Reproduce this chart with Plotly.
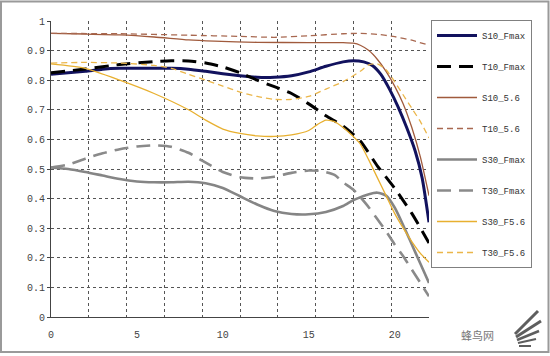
import plotly.graph_objects as go

# ---------------- data ----------------
x_S10_Fmax = [0, 1, 2, 3, 4, 5, 6, 7, 8, 9, 10, 11, 12, 13, 14, 15, 16, 17, 17.6, 18.2, 18.7, 19.2, 19.7, 20.2, 20.7, 21.2, 21.6, 22]
y_S10_Fmax = [0.82, 0.825, 0.83, 0.837, 0.84, 0.84, 0.84, 0.84, 0.837, 0.83, 0.822, 0.815, 0.81, 0.81, 0.815, 0.828, 0.847, 0.862, 0.866, 0.862, 0.85, 0.82, 0.77, 0.71, 0.64, 0.56, 0.47, 0.32]

x_T10_Fmax = [0, 2, 4, 6, 7, 8, 9, 10, 11, 12, 13, 14, 15, 16, 17, 18, 19, 20, 21, 22]
y_T10_Fmax = [0.825, 0.838, 0.853, 0.863, 0.866, 0.865, 0.858, 0.845, 0.825, 0.80, 0.778, 0.755, 0.72, 0.68, 0.645, 0.595, 0.51, 0.435, 0.35, 0.25]

x_S10_56 = [0, 2, 4, 6, 8, 9.5, 12, 15, 17, 17.6, 18, 18.5, 19, 19.5, 20, 20.5, 21, 21.5, 22]
y_S10_56 = [0.958, 0.956, 0.953, 0.946, 0.936, 0.932, 0.928, 0.927, 0.927, 0.925, 0.918, 0.90, 0.87, 0.83, 0.78, 0.72, 0.64, 0.54, 0.41]

x_T10_56 = [0, 4, 8, 11, 13, 15, 17, 18, 19, 20, 21, 22]
y_T10_56 = [0.958, 0.957, 0.952, 0.948, 0.945, 0.95, 0.957, 0.958, 0.955, 0.947, 0.935, 0.918]

x_S30_Fmax = [0, 1, 2, 3, 4, 5, 6, 7, 8, 9, 10, 11, 12, 13, 14, 15, 16, 17, 17.6, 18.5, 19, 19.5, 20, 20.5, 21, 21.5, 22]
y_S30_Fmax = [0.505, 0.50, 0.49, 0.478, 0.466, 0.458, 0.455, 0.455, 0.457, 0.452, 0.436, 0.408, 0.38, 0.358, 0.348, 0.347, 0.355, 0.375, 0.395, 0.415, 0.42, 0.41, 0.37, 0.31, 0.245, 0.18, 0.115]

x_T30_Fmax = [0, 1, 2, 3, 4, 5, 6, 7, 8, 8.8, 10, 11, 12, 13, 14, 15, 15.7, 16.5, 17, 17.6, 18, 18.5, 19, 19.5, 20, 20.5, 21, 21.5, 22]
y_T30_Fmax = [0.505, 0.515, 0.535, 0.553, 0.567, 0.576, 0.58, 0.575, 0.555, 0.528, 0.49, 0.472, 0.468, 0.474, 0.487, 0.495, 0.493, 0.48, 0.455, 0.43, 0.405, 0.37, 0.33, 0.29, 0.245, 0.205, 0.16, 0.115, 0.07]

x_S30_F56 = [0, 2, 4, 6, 8, 9, 10, 11, 12, 13, 14, 15, 15.5, 16, 16.5, 17, 17.5, 18, 18.5, 19, 19.5, 20, 20.5, 21, 21.5, 22]
y_S30_F56 = [0.855, 0.84, 0.80, 0.755, 0.70, 0.665, 0.635, 0.62, 0.612, 0.61, 0.615, 0.63, 0.65, 0.665, 0.66, 0.64, 0.615, 0.585, 0.53, 0.47, 0.41, 0.35, 0.30, 0.255, 0.215, 0.185]

x_T30_F56 = [0, 2, 4, 6, 7, 8, 9, 10, 11, 12, 13, 14, 15, 16, 17, 18, 18.5, 19, 19.5, 20, 20.5, 21, 21.5, 22]
y_T30_F56 = [0.858, 0.86, 0.858, 0.85, 0.84, 0.82, 0.80, 0.78, 0.76, 0.745, 0.735, 0.735, 0.745, 0.77, 0.795, 0.83, 0.852, 0.855, 0.835, 0.795, 0.75, 0.705, 0.66, 0.605]

x_tick_vals = [0, 5, 10, 15, 20]
x_tick_text = ["0", "5", "10", "15", "20"]
x_grid_vals = [2.2, 4.4, 6.6, 8.8, 11, 13.2, 15.4, 17.6, 19.8, 22]
y_tick_vals = [0, 0.1, 0.2, 0.3, 0.4, 0.5, 0.6, 0.7, 0.8, 0.9, 1.0]
y_tick_text = ["0", "0.1", "0.2", "0.3", "0.4", "0.5", "0.6", "0.7", "0.8", "0.9", "1"]

series = [
    ("S10_Fmax", x_S10_Fmax, y_S10_Fmax, "#12125e", 3, "solid"),
    ("T10_Fmax", x_T10_Fmax, y_T10_Fmax, "#000000", 3, "14px,8px"),
    ("S10_5.6", x_S10_56, y_S10_56, "#a05a3c", 1.3, "solid"),
    ("T10_5.6", x_T10_56, y_T10_56, "#a86850", 1.3, "6px,4px"),
    ("S30_Fmax", x_S30_Fmax, y_S30_Fmax, "#858585", 2.6, "solid"),
    ("T30_Fmax", x_T30_Fmax, y_T30_Fmax, "#8a8a8a", 2.6, "14px,8px"),
    ("S30_F5.6", x_S30_F56, y_S30_F56, "#e8b030", 1.3, "solid"),
    ("T30_F5.6", x_T30_F56, y_T30_F56, "#ebb64a", 1.3, "6px,4px"),
]

fig = go.Figure()
for i, (name, xs, ys, col, w, dash) in enumerate(series):
    fig.add_trace(go.Scatter(
        x=xs, y=ys, name=name, mode="lines", legendgroup=f"g{i}",
        line=dict(color=col, width=w, dash=dash, shape="spline", smoothing=0.6),
    ))

W, H = 550, 356
L, R, T, B = 51, 429, 21, 317


def px(x):
    return (x - L) / (R - L)


def py(y):
    return (B - y) / (B - T)


shapes = [
    dict(type="rect", xref="paper", yref="paper", x0=px(1), x1=px(548.5), y0=py(352), y1=py(1.5),
         line=dict(color="#9a9a9a", width=2), layer="below"),
]
# watermark wing strokes
for (x0, y0, x1, y1, w) in [(515, 334, 538, 311, 3), (516, 337, 541, 321, 3), (517, 340, 539, 331, 2.5),
                            (518, 343, 536, 339, 2.2), (519, 346, 531, 346, 2)]:
    shapes.append(dict(type="line", xref="paper", yref="paper", x0=px(x0), y0=py(y0), x1=px(x1), y1=py(y1),
                       line=dict(color="#5e5e5e", width=w)))

mono = "Liberation Mono, DejaVu Sans Mono, monospace"

fig.update_layout(
    width=W, height=H,
    margin=dict(l=L, r=W - R, t=T, b=H - B, pad=0),
    paper_bgcolor="white", plot_bgcolor="white",
    showlegend=True,
    legend=dict(
        x=px(431), y=py(20), xanchor="left", yanchor="top",
        bordercolor="#808080", borderwidth=1, bgcolor="white",
        font=dict(family=mono, size=9, color="#333333"),
        tracegroupgap=12, itemwidth=40, maxheight=400,
    ),
    xaxis=dict(
        range=[0, 22], tickmode="array", tickvals=x_tick_vals, ticktext=x_tick_text,
        showgrid=False, zeroline=False, showline=True, linecolor="#444444", linewidth=1,
        ticks="outside", ticklen=8, tickcolor="rgba(0,0,0,0)",
        tickfont=dict(family=mono, size=10, color="#444444"),
        minor=dict(tickmode="array", tickvals=x_grid_vals, showgrid=True, gridcolor="#555555",
                   griddash="dot", gridwidth=1, ticks=""),
    ),
    yaxis=dict(
        range=[0, 1], tickmode="array", tickvals=y_tick_vals, ticktext=y_tick_text,
        showgrid=True, gridcolor="#555555", griddash="dot", gridwidth=1,
        zeroline=False, showline=True, linecolor="#444444", linewidth=1,
        ticks="outside", ticklen=3, tickcolor="#444444",
        tickfont=dict(family=mono, size=10, color="#444444"),
    ),
    shapes=shapes,
    annotations=[
        dict(text="蜂鸟网", xref="paper", yref="paper", x=px(477), y=py(335), xanchor="center", yanchor="middle",
             showarrow=False, font=dict(family="Noto Sans CJK SC", size=11, color="#777777")),
    ],
)

fig.write_html("out.html", config={"displayModeBar": False},
               post_script="document.body.style.margin='0';document.body.style.overflow='hidden';")
